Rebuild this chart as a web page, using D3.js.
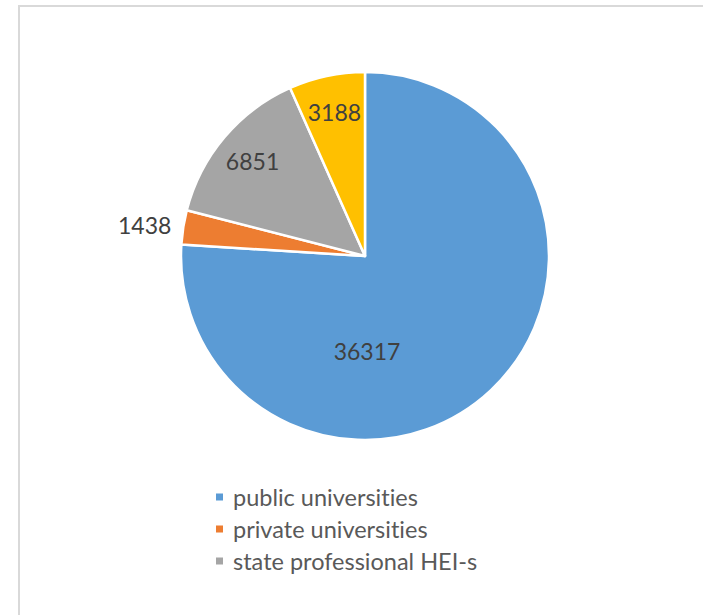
<!DOCTYPE html>
<html>
<head>
<meta charset="utf-8">
<script src="https://cdn.jsdelivr.net/npm/d3@7"></script>
<style>
  body { margin: 0; background: #fff; }
  svg { display: block; }
  text { font-variant-ligatures: none; }
</style>
</head>
<body>
<div id="viz-container"></div>
<script>
let width = 703;
let height = 615;

// data
let categories = ['public universities', 'private universities', 'state professional HEI-s', 'other HEI-s'];
let values = [36317, 1438, 6851, 3188];
let colors = ['#5B9BD5', '#ED7D31', '#A5A5A5', '#FFC000'];
let legendCount = 3; // the fourth entry is cut off in the original

let cx = 365, cy = 256, r = 184;

let viz = d3.select('#viz-container')
  .append('svg')
  .attr('width', width)
  .attr('height', height);

// chart frame (runs off the right and bottom)
viz.append('rect')
  .attr('x', 19)
  .attr('y', 6)
  .attr('width', 720)
  .attr('height', 640)
  .attr('fill', '#fff')
  .attr('stroke', '#d9d9d9')
  .attr('stroke-width', 2);

let data = categories.map((c, i) => ({name: c, value: values[i], color: colors[i]}));

let pie = d3.pie().sort(null).value(d => d.value);
let arcs = pie(data);

let arc = d3.arc().innerRadius(0).outerRadius(r);
let labelArc = d3.arc().innerRadius(r * 0.8).outerRadius(r * 0.8);
let outerArc = d3.arc().innerRadius(r + 12).outerRadius(r + 12);

let g = viz.append('g').attr('transform', 'translate(' + cx + ',' + cy + ')');

g.selectAll('.slice').data(arcs).enter()
  .append('path')
  .attr('class', 'slice')
  .attr('d', arc)
  .attr('fill', d => d.data.color)
  .attr('stroke', '#fff')
  .attr('stroke-width', 2.5)
  .attr('stroke-linejoin', 'round');

let maxVal = d3.max(values);
let total = d3.sum(values);

function labelPos(d) {
  if (d.data.value === maxVal) return [2, r * 0.515];
  if (d.data.value / total < 0.05) return outerArc.centroid(d);
  return labelArc.centroid(d);
}

g.selectAll('.dlabel').data(arcs).enter()
  .append('text')
  .attr('class', 'dlabel')
  .text(d => d.data.value)
  .attr('x', d => labelPos(d)[0])
  .attr('y', d => labelPos(d)[1])
  .attr('text-anchor', d => d.data.value / total < 0.05 ? 'end' : 'middle')
  .attr('dominant-baseline', 'central')
  .attr('font-family', 'Lato, "Open Sans", sans-serif')
  .attr('font-size', 23)
  .attr('fill', '#404040');

// legend
let legend = viz.selectAll('.legend').data(data.slice(0, legendCount)).enter()
  .append('g')
  .attr('class', 'legend')
  .attr('transform', (d, i) => 'translate(216,' + (497 + i * 32) + ')');

legend.append('rect')
  .attr('x', 0)
  .attr('y', -3.5)
  .attr('width', 7)
  .attr('height', 7)
  .attr('fill', d => d.color);

legend.append('text')
  .text(d => d.name)
  .attr('x', 17)
  .attr('y', 0)
  .attr('dominant-baseline', 'central')
  .attr('font-family', 'Lato, "Open Sans", sans-serif')
  .attr('font-size', 23.5)
  .attr('fill', '#595959');
</script>
</body>
</html>
